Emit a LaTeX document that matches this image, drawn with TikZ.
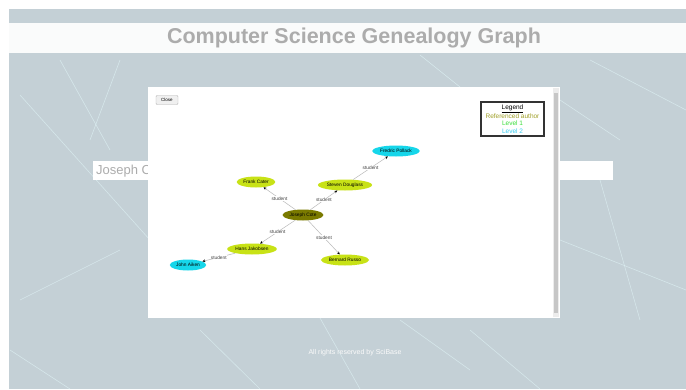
\documentclass[tikz,border=0pt]{standalone}
\usepackage{fontspec}
\setmainfont{Liberation Sans}
\usetikzlibrary{shapes.geometric,arrows.meta}
\definecolor{pagebg}{RGB}{196,208,214}
\definecolor{netline}{RGB}{225,245,248}
\definecolor{greytext}{RGB}{172,172,172}
\definecolor{refauthor}{RGB}{122,122,0}
\definecolor{levelone}{RGB}{200,226,22}
\definecolor{leveltwo}{RGB}{22,214,234}
\definecolor{legolive}{RGB}{160,160,40}
\definecolor{leggreen}{RGB}{60,222,60}
\definecolor{legcyan}{RGB}{60,204,240}
\tikzset{
  person/.style={ellipse,inner xsep=1pt,inner ysep=0pt,minimum height=11pt,
                 font=\fontsize{4.8pt}{5pt}\selectfont},
  rel/.style={draw=gray!55,line width=0.5pt,
              -{Stealth[length=3pt,width=2.6pt,black]}},
  rellabel/.style={fill=white,inner sep=0.4pt,text=black!75,
                   font=\fontsize{4.8pt}{5pt}\selectfont}}

\begin{document}
\begin{tikzpicture}
[x=1pt,y=-1pt,
 closebtn/.style={draw=gray!60,fill=gray!12,rounded corners=1pt,minimum width=22pt,
                  minimum height=9pt,inner sep=0pt,font=\fontsize{4.5pt}{5pt}\selectfont},
 legendbox/.style={draw=black!80,line width=1.2pt,align=center,minimum width=63pt,
                   minimum height=34pt,inner sep=1pt,font=\fontsize{6.5pt}{7.3pt}\selectfont}]
\useasboundingbox (0,0) rectangle (686,389);
\fill[white] (0,0) rectangle (686,389);
\fill[pagebg] (9,9) rectangle (686,389);
\foreach \a/\b in {{(20,95)}/{(150,240)}, {(60,60)}/{(110,150)}, {(420,55)}/{(470,95)},
                   {(590,60)}/{(686,110)}, {(560,240)}/{(686,290)}, {(20,300)}/{(120,250)},
                   {(10,350)}/{(70,389)}, {(200,330)}/{(260,389)}, {(320,318)}/{(360,389)},
                   {(470,330)}/{(540,389)}, {(600,180)}/{(640,320)}, {(120,60)}/{(90,140)},
                   {(400,320)}/{(470,370)}, {(560,100)}/{(620,140)}}
  \draw[netline,line width=0.6pt,opacity=0.6] \a -- \b;
\fill[white,opacity=0.92] (9,23) rectangle (686,53);
\node (title) at (354,38) [text=greytext,font=\fontsize{21.5pt}{23pt}\selectfont\bfseries]
  {Computer Science Genealogy Graph};
\fill[white] (93,161) rectangle (613,180);
\node (search) at (96,171) [anchor=west,inner sep=0pt,text=greytext,
  font=\fontsize{13pt}{14pt}\selectfont] {Joseph C};
\fill[white] (148,87) rectangle (560,318);
\fill[gray!15] (553,88) rectangle (559,317);
\fill[gray!45] (554,93) rectangle (558,313);
\node (close) at (167,100) [closebtn] {Close};
\node (legend) at (512.5,119) [legendbox]
  {\underline{Legend}\\ \textcolor{legolive}{Referenced author}\\
   \textcolor{leggreen}{Level 1}\\ \textcolor{legcyan}{Level 2}};
\node (cote) at (303,215) [person,fill=refauthor] {Joseph Cote};
\node (cater) at (256,182) [person,fill=levelone] {Frank Cater};
\node (douglass) at (345,185) [person,fill=levelone] {Steven Douglass};
\node (pollack) at (396,151) [person,fill=leveltwo] {Fredric Pollack};
\node (jakobsen) at (252,249) [person,fill=levelone] {Hans Jakobsen};
\node (russo) at (345,260) [person,fill=levelone] {Bernard Russo};
\node (aiken) at (188,265) [person,fill=leveltwo] {John Aiken};
\draw [rel] (cote) to node[rellabel] {student} (cater);
\draw [rel] (cote) to node[rellabel] {student} (douglass);
\draw [rel] (douglass) to node[rellabel] {student} (pollack);
\draw [rel] (cote) to node[rellabel] {student} (jakobsen);
\draw [rel] (cote) to node[rellabel] {student} (russo);
\draw [rel] (jakobsen) to node[rellabel] {student} (aiken);
\node (footer) at (355,353) [text=white!96!gray,font=\fontsize{7pt}{8pt}\selectfont]
  {All rights reserved by SciBase};
\end{tikzpicture}
\end{document}
